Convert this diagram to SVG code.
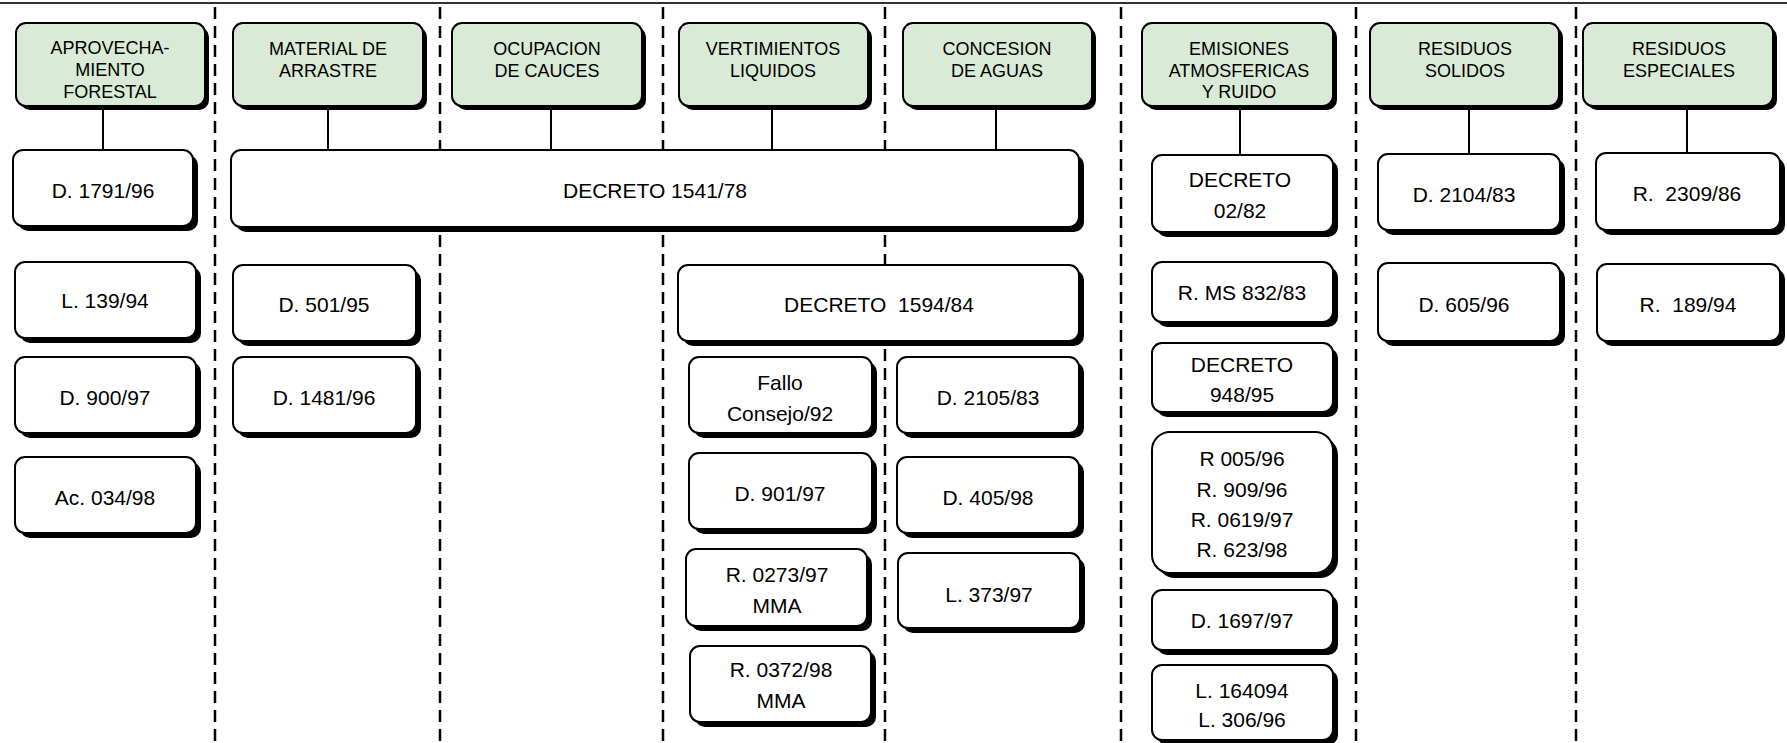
<svg xmlns="http://www.w3.org/2000/svg" width="1787" height="743" viewBox="0 0 1787 743">
<style>
.sh{fill:#000}
.hb{fill:#d9ead6;stroke:#000;stroke-width:2}
.bx{fill:#fff;stroke:#000;stroke-width:2}
.dash{stroke:#000;stroke-width:2.5;stroke-dasharray:12 7;fill:none}
.con{stroke:#000;stroke-width:2;fill:none}
text{font-family:"Liberation Sans",Arial,sans-serif;fill:#000;text-anchor:middle}
.th{font-size:18px}
.tb{font-size:21px}
</style>
<rect x="0" y="2" width="1787" height="2" fill="#333"/>
<g id="separators">
<line class="dash" x1="215" y1="7" x2="215" y2="743"/>
<line class="dash" x1="440" y1="7" x2="440" y2="743"/>
<line class="dash" x1="663" y1="7" x2="663" y2="743"/>
<line class="dash" x1="885" y1="7" x2="885" y2="743"/>
<line class="dash" x1="1121" y1="7" x2="1121" y2="743"/>
<line class="dash" x1="1356" y1="7" x2="1356" y2="743"/>
<line class="dash" x1="1576" y1="7" x2="1576" y2="743"/>
</g>
<g id="connectors">
<line class="con" x1="103" y1="106" x2="103" y2="150"/>
<line class="con" x1="328" y1="106" x2="328" y2="150"/>
<line class="con" x1="551" y1="106" x2="551" y2="150"/>
<line class="con" x1="772" y1="106" x2="772" y2="150"/>
<line class="con" x1="996" y1="106" x2="996" y2="150"/>
<line class="con" x1="1240" y1="106" x2="1240" y2="155"/>
<line class="con" x1="1469" y1="106" x2="1469" y2="154"/>
<line class="con" x1="1687" y1="106" x2="1687" y2="153"/>
</g>
<g id="h-aprovechamiento"><rect class="sh" x="20" y="27" width="189" height="83" rx="10"/><rect class="hb" x="16" y="23" width="189" height="83" rx="10"/><text class="th" x="110" y="54">APROVECHA-</text><text class="th" x="110" y="76">MIENTO</text><text class="th" x="110" y="98">FORESTAL</text></g>
<g id="h-material"><rect class="sh" x="237" y="27" width="190" height="83" rx="10"/><rect class="hb" x="233" y="23" width="190" height="83" rx="10"/><text class="th" x="328" y="55">MATERIAL DE</text><text class="th" x="328" y="77">ARRASTRE</text></g>
<g id="h-ocupacion"><rect class="sh" x="456" y="27" width="190" height="83" rx="10"/><rect class="hb" x="452" y="23" width="190" height="83" rx="10"/><text class="th" x="547" y="55">OCUPACION</text><text class="th" x="547" y="77">DE CAUCES</text></g>
<g id="h-vertimientos"><rect class="sh" x="683" y="27" width="189" height="83" rx="10"/><rect class="hb" x="679" y="23" width="189" height="83" rx="10"/><text class="th" x="773" y="55">VERTIMIENTOS</text><text class="th" x="773" y="77">LIQUIDOS</text></g>
<g id="h-concesion"><rect class="sh" x="907" y="27" width="189" height="83" rx="10"/><rect class="hb" x="903" y="23" width="189" height="83" rx="10"/><text class="th" x="997" y="55">CONCESION</text><text class="th" x="997" y="77">DE AGUAS</text></g>
<g id="h-emisiones"><rect class="sh" x="1146" y="27" width="191" height="83" rx="10"/><rect class="hb" x="1142" y="23" width="191" height="83" rx="10"/><text class="th" x="1239" y="55">EMISIONES</text><text class="th" x="1239" y="77">ATMOSFERICAS</text><text class="th" x="1239" y="98">Y RUIDO</text></g>
<g id="h-solidos"><rect class="sh" x="1374" y="27" width="189" height="83" rx="10"/><rect class="hb" x="1370" y="23" width="189" height="83" rx="10"/><text class="th" x="1465" y="55">RESIDUOS</text><text class="th" x="1465" y="77">SOLIDOS</text></g>
<g id="h-especiales"><rect class="sh" x="1587" y="27" width="190" height="83" rx="10"/><rect class="hb" x="1583" y="23" width="190" height="83" rx="10"/><text class="th" x="1679" y="55">RESIDUOS</text><text class="th" x="1679" y="77">ESPECIALES</text></g>

<g id="n-d1791"><rect class="sh" x="18" y="155" width="180" height="76" rx="10"/><rect class="bx" x="13" y="150" width="180" height="76" rx="10"/><text class="tb" x="103" y="198">D. 1791/96</text></g>
<g id="n-decreto1541"><rect class="sh" x="236" y="155" width="848" height="77" rx="10"/><rect class="bx" x="231" y="150" width="848" height="77" rx="10"/><text class="tb" x="655" y="198">DECRETO 1541/78</text></g>
<g id="n-decreto0282"><rect class="sh" x="1157" y="160" width="181" height="77" rx="10"/><rect class="bx" x="1152" y="155" width="181" height="77" rx="10"/><text class="tb" x="1240" y="187">DECRETO</text><text class="tb" x="1240" y="218">02/82</text></g>
<g id="n-d2104"><rect class="sh" x="1383" y="159" width="182" height="76" rx="10"/><rect class="bx" x="1378" y="154" width="182" height="76" rx="10"/><text class="tb" x="1464" y="202">D. 2104/83</text></g>
<g id="n-r2309"><rect class="sh" x="1601" y="158" width="184" height="77" rx="10"/><rect class="bx" x="1596" y="153" width="184" height="77" rx="10"/><text class="tb" x="1687" y="201" xml:space="preserve">R.  2309/86</text></g>

<g id="n-l139"><rect class="sh" x="20" y="267" width="181" height="76" rx="10"/><rect class="bx" x="15" y="262" width="181" height="76" rx="10"/><text class="tb" x="105" y="308">L. 139/94</text></g>
<g id="n-d900"><rect class="sh" x="20" y="362" width="181" height="76" rx="10"/><rect class="bx" x="15" y="357" width="181" height="76" rx="10"/><text class="tb" x="105" y="405">D. 900/97</text></g>
<g id="n-ac034"><rect class="sh" x="20" y="462" width="181" height="76" rx="10"/><rect class="bx" x="15" y="457" width="181" height="76" rx="10"/><text class="tb" x="105" y="505">Ac. 034/98</text></g>

<g id="n-d501"><rect class="sh" x="238" y="270" width="183" height="76" rx="10"/><rect class="bx" x="233" y="265" width="183" height="76" rx="10"/><text class="tb" x="324" y="312">D. 501/95</text></g>
<g id="n-d1481"><rect class="sh" x="238" y="362" width="183" height="76" rx="10"/><rect class="bx" x="233" y="357" width="183" height="76" rx="10"/><text class="tb" x="324" y="405">D. 1481/96</text></g>

<g id="n-decreto1594"><rect class="sh" x="683" y="270" width="401" height="76" rx="10"/><rect class="bx" x="678" y="265" width="401" height="76" rx="10"/><text class="tb" x="879" y="312" xml:space="preserve">DECRETO  1594/84</text></g>
<g id="n-fallo"><rect class="sh" x="694" y="362" width="183" height="76" rx="10"/><rect class="bx" x="689" y="357" width="183" height="76" rx="10"/><text class="tb" x="780" y="390">Fallo</text><text class="tb" x="780" y="421">Consejo/92</text></g>
<g id="n-d2105"><rect class="sh" x="902" y="362" width="182" height="76" rx="10"/><rect class="bx" x="897" y="357" width="182" height="76" rx="10"/><text class="tb" x="988" y="405">D. 2105/83</text></g>
<g id="n-d901"><rect class="sh" x="694" y="458" width="183" height="76" rx="10"/><rect class="bx" x="689" y="453" width="183" height="76" rx="10"/><text class="tb" x="780" y="501">D. 901/97</text></g>
<g id="n-d405"><rect class="sh" x="902" y="462" width="182" height="76" rx="10"/><rect class="bx" x="897" y="457" width="182" height="76" rx="10"/><text class="tb" x="988" y="505">D. 405/98</text></g>
<g id="n-r0273"><rect class="sh" x="691" y="554" width="181" height="77" rx="10"/><rect class="bx" x="686" y="549" width="181" height="77" rx="10"/><text class="tb" x="777" y="582">R. 0273/97</text><text class="tb" x="777" y="613">MMA</text></g>
<g id="n-r0372"><rect class="sh" x="695" y="651" width="181" height="76" rx="10"/><rect class="bx" x="690" y="646" width="181" height="76" rx="10"/><text class="tb" x="781" y="677">R. 0372/98</text><text class="tb" x="781" y="708">MMA</text></g>
<g id="n-l373"><rect class="sh" x="903" y="558" width="182" height="75" rx="10"/><rect class="bx" x="898" y="553" width="182" height="75" rx="10"/><text class="tb" x="989" y="602">L. 373/97</text></g>

<g id="n-rms832"><rect class="sh" x="1157" y="267" width="181" height="60" rx="10"/><rect class="bx" x="1152" y="262" width="181" height="60" rx="10"/><text class="tb" x="1242" y="300">R. MS 832/83</text></g>
<g id="n-decreto948"><rect class="sh" x="1157" y="348" width="181" height="69" rx="10"/><rect class="bx" x="1152" y="343" width="181" height="69" rx="10"/><text class="tb" x="1242" y="372">DECRETO</text><text class="tb" x="1242" y="402">948/95</text></g>
<g id="n-r005"><rect class="sh" x="1157" y="437" width="181" height="141" rx="18"/><rect class="bx" x="1152" y="432" width="181" height="141" rx="18"/><text class="tb" x="1242" y="466">R 005/96</text><text class="tb" x="1242" y="497">R. 909/96</text><text class="tb" x="1242" y="527">R. 0619/97</text><text class="tb" x="1242" y="557">R. 623/98</text></g>
<g id="n-d1697"><rect class="sh" x="1157" y="595" width="181" height="60" rx="10"/><rect class="bx" x="1152" y="590" width="181" height="60" rx="10"/><text class="tb" x="1242" y="628">D. 1697/97</text></g>
<g id="n-l164094"><rect class="sh" x="1157" y="670" width="181" height="75" rx="10"/><rect class="bx" x="1152" y="665" width="181" height="75" rx="10"/><text class="tb" x="1242" y="698">L. 164094</text><text class="tb" x="1242" y="727">L. 306/96</text></g>

<g id="n-d605"><rect class="sh" x="1383" y="268" width="182" height="78" rx="10"/><rect class="bx" x="1378" y="263" width="182" height="78" rx="10"/><text class="tb" x="1464" y="312">D. 605/96</text></g>
<g id="n-r189"><rect class="sh" x="1602" y="269" width="183" height="77" rx="10"/><rect class="bx" x="1597" y="264" width="183" height="77" rx="10"/><text class="tb" x="1688" y="312" xml:space="preserve">R.  189/94</text></g>
</svg>
